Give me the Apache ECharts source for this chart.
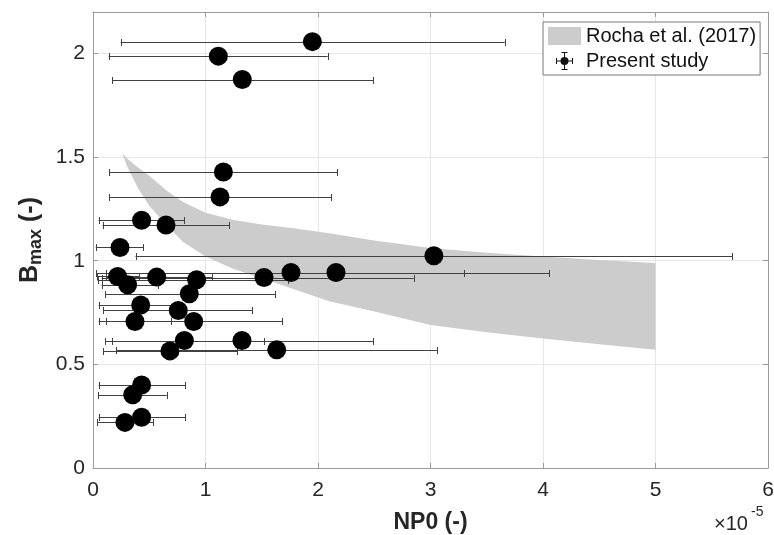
<!DOCTYPE html>
<html><head><meta charset="utf-8">
<script src="https://cdn.jsdelivr.net/npm/echarts@6/dist/echarts.min.js"></script>
<style>html,body{margin:0;padding:0;background:#fff}#c{width:774px;height:535px}</style>
</head><body><div id="c"></div>
<script>
// x values in units of 1e-5
const xTickLabels = ['0','1','2','3','4','5','6'];
const yTickLabels = ['0','0.5','1','1.5','2'];

const npX   = [1.95, 1.114, 1.327, 1.159, 1.129, 0.432, 0.649, 0.24, 3.03, 0.219, 0.566, 0.921, 1.52, 1.76, 2.16, 0.308, 0.856, 0.424, 0.758, 0.373, 0.895, 0.812, 1.324, 0.684, 1.633, 0.432, 0.353, 0.432, 0.284];
const bMax  = [2.057, 1.987, 1.874, 1.428, 1.308, 1.195, 1.172, 1.064, 1.024, 0.924, 0.921, 0.908, 0.919, 0.943, 0.943, 0.884, 0.841, 0.786, 0.76, 0.707, 0.707, 0.615, 0.615, 0.565, 0.57, 0.40, 0.353, 0.245, 0.22];
const errLo = [0.246, 0.139, 0.169, 0.145, 0.145, 0.05, 0.085, 0.024, 0.378, 0.033, 0.116, 0.04, 0.077, 0.03, 0.116, 0.077, 0.107, 0.05, 0.092, 0.05, 0.116, 0.107, 0.169, 0.092, 0.204, 0.05, 0.044, 0.05, 0.036];
const errHi = [3.66, 2.086, 2.49, 2.17, 2.116, 0.812, 1.212, 0.447, 5.68, 0.41, 1.06, 1.73, 2.85, 3.30, 4.056, 0.58, 1.62, 0.74, 1.416, 0.693, 1.683, 1.52, 2.49, 1.28, 3.057, 0.818, 0.655, 0.818, 0.533];

const bandX     = [0.26, 0.3, 0.4, 0.5, 0.65, 0.8, 1.0, 1.25, 1.5, 1.8, 2.1, 2.5, 3.0, 3.5, 4.0, 4.5, 5.0];
const bandUpper = [1.52, 1.495, 1.45, 1.41, 1.34, 1.283, 1.232, 1.197, 1.175, 1.155, 1.132, 1.098, 1.062, 1.038, 1.02, 1.004, 0.989];
const bandLower = [1.52, 1.46, 1.35, 1.265, 1.175, 1.09, 1.02, 0.96, 0.915, 0.86, 0.805, 0.755, 0.69, 0.655, 0.625, 0.597, 0.57];

const FONT = "'Liberation Sans', Arial, Helvetica, sans-serif";
const AXC = '#9a9a9a';
const chart = echarts.init(document.getElementById('c'), null, {renderer: 'canvas'});

const bandData = bandX.map((x, i) => [x, bandUpper[i], bandLower[i]]);
const errData = npX.map((x, i) => [x, bMax[i], errLo[i], errHi[i]]);
const ptData = npX.map((x, i) => [x, bMax[i]]);

const legendIcon = 'path://M0 0h0.01v0.01h-0.01z M33 18h-0.01v-0.01h0.01z ' +
  'M8 8.5h17v1h-17z M8 6h1v6h-1z M24 6h1v6h-1z ' +
  'M16 0.5h1v17h-1z M13.5 0h6v1h-6z M13.5 17h6v1h-6z ' +
  'M12.5 9a4 4 0 1 1 8 0a4 4 0 1 1 -8 0z';

const baseX = {
  type: 'value', min: 0, max: 6, interval: 1,
  axisLine: {show: true, onZero: false, lineStyle: {color: AXC, width: 1}},
  axisTick: {show: true, inside: true, length: 5, lineStyle: {color: AXC}},
};
const baseY = {
  type: 'value', min: 0, max: 2.2, interval: 0.5,
  axisLine: {show: true, onZero: false, lineStyle: {color: AXC, width: 1}},
  axisTick: {show: true, inside: true, length: 5, lineStyle: {color: AXC}},
};

chart.setOption({
  animation: false,
  backgroundColor: '#fff',
  grid: {left: 93, right: 6, top: 12, bottom: 67, containLabel: false, outerBoundsMode: 'none'},
  xAxis: [
    Object.assign({}, baseX, {
      position: 'bottom',
      name: 'NP0 (-)', nameLocation: 'middle', nameGap: 43,
      nameTextStyle: {fontFamily: FONT, fontWeight: 'bold', fontSize: 23, color: '#262626'},
      axisLabel: {fontFamily: FONT, fontSize: 21, color: '#262626', margin: 12,
        formatter: v => xTickLabels[Math.round(v)] ?? ''},
      splitLine: {show: true, lineStyle: {color: '#e6e6e6', width: 1}}
    }),
    Object.assign({}, baseX, {position: 'top', axisLabel: {show: false}, splitLine: {show: false}})
  ],
  yAxis: [
    Object.assign({}, baseY, {
      position: 'left',
      name: '{b|B}{s|max}{b| (-)}', nameLocation: 'middle', nameGap: 47, nameRotate: 90,
      nameTextStyle: {
        fontFamily: FONT, fontWeight: 'bold', color: '#262626',
        rich: {
          b: {fontFamily: FONT, fontWeight: 'bold', fontSize: 25, color: '#262626', lineHeight: 30},
          s: {fontFamily: FONT, fontWeight: 'bold', fontSize: 18, color: '#262626', lineHeight: 30, verticalAlign: 'bottom', padding: [9, 0, 0, 0]}
        }
      },
      axisLabel: {fontFamily: FONT, fontSize: 21, color: '#262626', margin: 8, showMaxLabel: false,
        formatter: v => { const i = Math.round(v / 0.5); return Math.abs(v - i * 0.5) < 1e-9 ? (yTickLabels[i] ?? '') : ''; }},
      splitLine: {show: true, lineStyle: {color: '#e6e6e6', width: 1}}
    }),
    Object.assign({}, baseY, {position: 'right', axisLabel: {show: false}, splitLine: {show: false}})
  ],
  legend: {
    left: 543, top: 22, orient: 'vertical',
    backgroundColor: '#fff', borderColor: '#777', borderWidth: 1, borderRadius: 0,
    padding: [4, 4, 4, 5], itemGap: 5, itemWidth: 33, itemHeight: 18, itemStyle: {borderWidth: 0},
    textStyle: {fontFamily: FONT, fontSize: 20, color: '#111'},
    data: [
      {name: 'Rocha et al. (2017)', icon: 'rect', itemStyle: {color: '#cccccc'}},
      {name: 'Present study', icon: legendIcon, itemStyle: {color: '#111'}}
    ]
  },
  graphic: [
    {type: 'text', left: 714, top: 514, style: {text: '×10', fontFamily: FONT, fontSize: 20, fill: '#262626'}},
    {type: 'text', left: 751, top: 505, style: {text: '-5', fontFamily: FONT, fontSize: 14, fill: '#262626'}}
  ],
  series: [
    {
      name: 'Rocha et al. (2017)', type: 'custom', z: 1,
      data: bandData,
      encode: {x: 0, y: [1, 2]},
      itemStyle: {color: '#cccccc'},
      renderItem: function (params, api) {
        if (params.dataIndex !== 0) return null;
        const pts = [];
        for (let i = 0; i < bandData.length; i++) pts.push(api.coord([bandData[i][0], bandData[i][1]]));
        for (let i = bandData.length - 1; i >= 0; i--) pts.push(api.coord([bandData[i][0], bandData[i][2]]));
        return {type: 'polygon', shape: {points: pts, smooth: 0}, style: {fill: '#cccccc', stroke: null}};
      }
    },
    {
      name: 'Present study', type: 'custom', z: 3,
      data: errData,
      encode: {x: [0, 2, 3], y: 1},
      renderItem: function (params, api) {
        const y = api.value(1);
        const a = api.coord([api.value(2), y]);
        const b = api.coord([api.value(3), y]);
        const ay = Math.round(a[1]) + 0.5;
        const st = {stroke: '#404040', lineWidth: 1};
        return {type: 'group', children: [
          {type: 'line', shape: {x1: a[0], y1: ay, x2: b[0], y2: ay}, style: st},
          {type: 'line', shape: {x1: Math.round(a[0]) + 0.5, y1: ay - 3.5, x2: Math.round(a[0]) + 0.5, y2: ay + 3.5}, style: st},
          {type: 'line', shape: {x1: Math.round(b[0]) + 0.5, y1: ay - 3.5, x2: Math.round(b[0]) + 0.5, y2: ay + 3.5}, style: st}
        ]};
      }
    },
    {
      name: 'Present study', type: 'scatter', z: 4,
      data: ptData, symbol: 'circle', symbolSize: 19,
      itemStyle: {color: '#000', opacity: 1},
      emphasis: {disabled: true}
    }
  ]
});
</script></body></html>
